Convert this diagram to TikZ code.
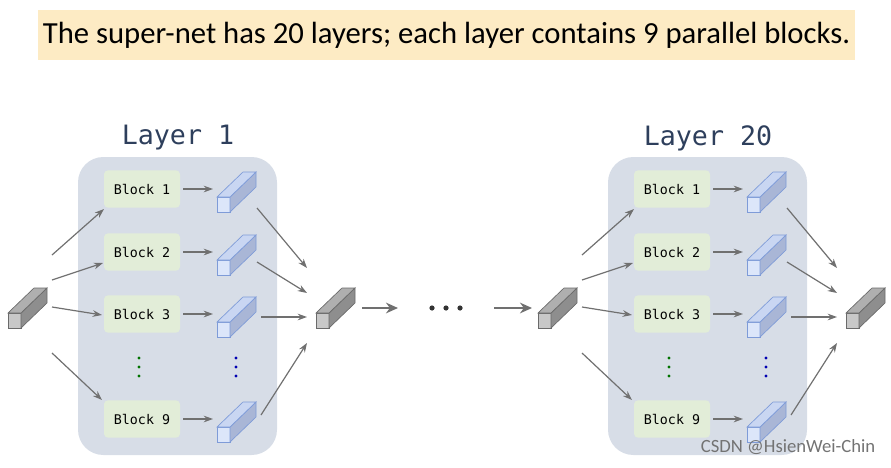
\documentclass[tikz,border=0pt]{standalone}
\usepackage{fontspec}
\setmainfont{Carlito}
\newfontfamily\monof{DejaVu Sans Mono}
\usetikzlibrary{arrows.meta}
\definecolor{ttl}{HTML}{FDEBC4}
\definecolor{pan}{HTML}{D7DDE7}
\definecolor{blk}{HTML}{E2EDD8}
\definecolor{lay}{HTML}{2E3F5C}
\definecolor{arr}{HTML}{707070}
\definecolor{bcf}{HTML}{DCE6FA}
\definecolor{bcs}{HTML}{A9B6D6}
\definecolor{bct}{HTML}{C9D6F2}
\definecolor{bce}{HTML}{7E9BD8}
\definecolor{gcf}{HTML}{C8C8C8}
\definecolor{gcs}{HTML}{8E8E8E}
\definecolor{gct}{HTML}{AFAFAF}
\definecolor{gce}{HTML}{6A6A6A}
\begin{document}
\begin{tikzpicture}[x=0.75pt,y=-0.75pt,
  arw/.style={draw=arr,line width=0.9pt,-{Stealth[length=7pt,width=5pt]}},
  big/.style={draw=arr,line width=2pt,-{Stealth[length=9pt,width=8pt]}},
  block/.style={fill=blk,rounded corners=3pt,minimum width=57pt,minimum height=28pt,inner sep=0pt,font=\monof\fontsize{10}{12}\selectfont},
  panel/.style={fill=pan,rounded corners=19pt},
  laylab/.style={text=lay,font=\monof\fontsize{20}{22}\selectfont},
  pics/cube/.style={code={
    \fill[#1cf,draw=#1ce,line width=0.5pt] (0,0) -- (13,0) -- (13,-15) -- (0,-15) -- cycle;
    \fill[#1cs,draw=#1ce,line width=0.5pt] (13,0) -- (39,-25) -- (39,-40) -- (13,-15) -- cycle;
    \fill[#1ct,draw=#1ce,line width=0.5pt] (0,-15) -- (13,-15) -- (39,-40) -- (26,-40) -- cycle;
  }}]
\useasboundingbox (0,0) rectangle (891,467);
\node[fill=ttl,minimum width=612.75pt,minimum height=37.5pt,inner sep=0pt,font=\fontsize{23}{26}\selectfont] (title) at (446.5,35) {The super-net has 20 layers; each layer contains 9 parallel blocks.};
\foreach \s/\n/\L in {0/a/1,530/b/20}{
  \begin{scope}[xshift=\s*0.75pt]
  \fill[panel] (78,157) rectangle (277,455);
  \node[laylab] (lab\n) at (178,138) {Layer \L};
  \foreach \i/\y in {1/189,2/252,3/314,9/419}{
    \node[block] (b\n\i) at (142,\y) {Block \i};
    \pic at (217,\y+23) {cube=b};
    \coordinate (cl\n\i) at (183,\y);
    \coordinate (cr\n\i) at (213,\y);
  }
  \foreach \d in {0,9,18}{
    \fill[green!45!black] (139,358+\d) circle (1.6);
    \fill[blue!70!black] (236,358+\d) circle (1.6);
  }
  \foreach \i in {1,2,3,9}{\draw[arw] (cl\n\i) -- (cr\n\i);}
  \coordinate (s1\n) at (52,255); \coordinate (e1\n) at (104,209);
  \coordinate (s2\n) at (52,280); \coordinate (e2\n) at (103,263);
  \coordinate (s3\n) at (52,307); \coordinate (e3\n) at (102,315);
  \coordinate (s4\n) at (52,353); \coordinate (e4\n) at (102,400);
  \coordinate (t1\n) at (257,208); \coordinate (u1\n) at (307,268);
  \coordinate (t2\n) at (257,262); \coordinate (u2\n) at (307,293);
  \coordinate (t3\n) at (261,317); \coordinate (u3\n) at (307,317);
  \coordinate (t4\n) at (261,415); \coordinate (u4\n) at (307,343);
  \foreach \j in {1,2,3,4}{\draw[arw] (s\j\n) -- (e\j\n); \draw[arw] (t\j\n) -- (u\j\n);}
  \pic at (8,328) {cube=g};
  \pic at (316,328) {cube=g};
  \end{scope}
}
\coordinate (g1) at (362,308); \coordinate (g2) at (398,308);
\coordinate (g3) at (494,308); \coordinate (g4) at (532,308);
\draw[big] (g1) -- (g2);
\draw[big] (g3) -- (g4);
\foreach \x in {432,446,460}{\fill[black!80] (\x,308) circle (2.6);}
\node[text=black!55,font=\fontsize{14}{16}\selectfont,anchor=east] (wm) at (880,447) {CSDN @HsienWei-Chin};
\end{tikzpicture}
\end{document}
